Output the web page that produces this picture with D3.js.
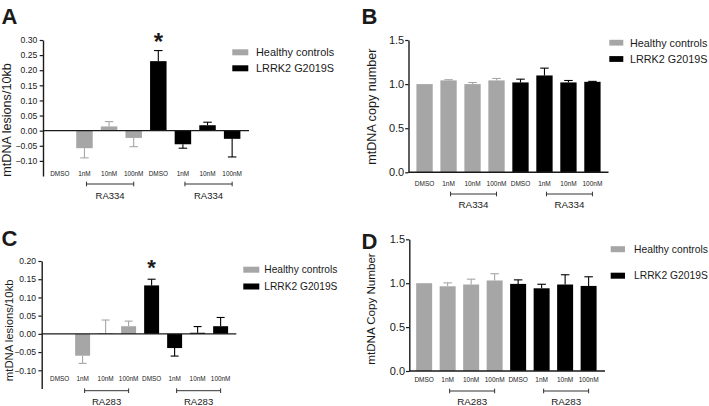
<!DOCTYPE html>
<html><head><meta charset="utf-8">
<script src="https://cdn.jsdelivr.net/npm/d3@7"></script>
<style>
body{margin:0;background:#fff}
svg{display:block}
text{font-family:"Liberation Sans",Arial,Helvetica,sans-serif;fill:#1a1a1a}
</style>
</head><body><svg id="chart" width="709" height="406"></svg>
<script>
// ---------- data ----------
const conditions = ["DMSO", "1nM", "10nM", "100nM"];
const seriesNames = ["Healthy controls", "LRRK2 G2019S"];
const drugTop = "RA334";
const drugBottom = "RA283";

// Panel A: mtDNA lesions/10kb (RA334)
const aHealthy    = [0, -0.058, 0.014, -0.024];
const aHealthyErr = [0, 0.032, 0.016, 0.029];
const aLrrk2      = [0.230, -0.045, 0.018, -0.027];
const aLrrk2Err   = [0.035, 0.013, 0.010, 0.060];
const aTicks = [-0.10, -0.05, 0.00, 0.05, 0.10, 0.15, 0.20, 0.25, 0.30];

// Panel B: mtDNA copy number (RA334)
const bHealthy    = [1.000, 1.042, 1.000, 1.042];
const bHealthyErr = [0, 0.008, 0.018, 0.022];
const bLrrk2      = [1.019, 1.098, 1.019, 1.026];
const bLrrk2Err   = [0.037, 0.083, 0.022, 0.005];
const bTicks = [0.0, 0.5, 1.0, 1.5];

// Panel C: mtDNA lesions/10kb (RA283)
const cHealthy    = [0, -0.060, 0.002, 0.021];
const cHealthyErr = [0, 0.021, 0.036, 0.014];
const cLrrk2      = [0.133, -0.039, 0.003, 0.021];
const cLrrk2Err   = [0.017, 0.022, 0.017, 0.024];
const cTicks = [-0.10, -0.05, 0.00, 0.05, 0.10, 0.15, 0.20];

// Panel D: mtDNA Copy Number (RA283)
const dHealthy    = [1.000, 0.965, 0.985, 1.031];
const dHealthyErr = [0, 0.039, 0.061, 0.077];
const dLrrk2      = [0.992, 0.942, 0.985, 0.969];
const dLrrk2Err   = [0.046, 0.046, 0.111, 0.104];
const dTicks = [0.0, 0.5, 1.0, 1.5];

const colors = ["#a6a6a6", "#000000"];
const axisColor = "#1a1a1a";

const svg = d3.select("#chart");

function panel(p) {
  const g = svg.append("g");
  const ids = d3.range(8);
  const x = d3.scaleBand().domain(ids).range([p.x0, p.x1])
    .paddingInner(p.pi).paddingOuter(p.po).align(p.align);
  const y = d3.scaleLinear().domain(p.yDomain).range(p.yRange);
  const bw = x.bandwidth();
  const cx = i => x(i) + bw / 2;

  const rows = [
    ...p.healthy.map((v, i) => ({i, v, e: p.healthyErr[i], s: 0, label: conditions[i]})),
    ...p.lrrk2.map((v, i) => ({i: i + 4, v, e: p.lrrk2Err[i], s: 1, label: conditions[i]}))
  ];

  // error bars (one-sided, away from zero)
  const eb = rows.filter(d => d.e > 0);
  const tip = d => y(d.v + (d.v >= 0 ? 1 : -1) * d.e);
  g.selectAll("line.err").data(eb).join("line").attr("class", "err")
    .attr("x1", d => cx(d.i)).attr("x2", d => cx(d.i))
    .attr("y1", d => y(d.v)).attr("y2", tip)
    .attr("stroke", d => colors[d.s]).attr("stroke-width", 1.1);
  g.selectAll("line.cap").data(eb).join("line").attr("class", "cap")
    .attr("x1", d => cx(d.i) - p.capW / 2).attr("x2", d => cx(d.i) + p.capW / 2)
    .attr("y1", tip).attr("y2", tip)
    .attr("stroke", d => colors[d.s]).attr("stroke-width", 1.1);

  // bars
  g.selectAll("rect.bar").data(rows).join("rect").attr("class", "bar")
    .attr("x", d => x(d.i)).attr("width", bw)
    .attr("y", d => Math.min(y(d.v), y(0)))
    .attr("height", d => Math.abs(y(d.v) - y(0)))
    .attr("fill", d => colors[d.s]);

  // y axis
  const ax = d3.axisLeft(y).tickValues(p.ticks).tickFormat(d3.format(p.fmt))
    .tickSize(p.tickLen).tickSizeOuter(0).tickPadding(p.tickPad);
  const ag = g.append("g").attr("transform", `translate(${p.x0},0)`).call(ax);
  ag.select(".domain").attr("stroke", axisColor).attr("stroke-width", 1.4);
  ag.selectAll(".tick line").attr("stroke", axisColor).attr("stroke-width", 1.2);
  ag.selectAll(".tick text").attr("font-size", p.tickFont).attr("fill", "#1a1a1a")
    .attr("font-family", '"Liberation Sans",Arial,sans-serif');

  // zero baseline / x axis
  g.append("line").attr("x1", p.x0).attr("x2", p.x1).attr("y1", y(0)).attr("y2", y(0))
    .attr("stroke", axisColor).attr("stroke-width", 1.4);

  // y title
  g.append("text")
    .attr("transform", `translate(${p.titleX},${p.titleY}) rotate(-90)`)
    .attr("text-anchor", "middle").attr("font-size", p.titleFont)
    .text(p.title);

  // category labels
  g.selectAll("text.cat").data(rows).join("text").attr("class", "cat")
    .attr("x", d => cx(d.i)).attr("y", p.catY)
    .attr("text-anchor", "middle").attr("dominant-baseline", "central")
    .attr("font-size", p.catFont).text(d => d.label);

  // drug brackets
  [[1, 3], [5, 7]].forEach(([a, b]) => {
    const xa = cx(a) + p.brOff, xb = cx(b);
    g.append("line").attr("x1", xa).attr("x2", xb).attr("y1", p.brY).attr("y2", p.brY)
      .attr("stroke", "#333").attr("stroke-width", 1);
    [xa, xb].forEach(xx => g.append("line").attr("x1", xx).attr("x2", xx)
      .attr("y1", p.brY - 2.3).attr("y2", p.brY + 2.3).attr("stroke", "#333").attr("stroke-width", 1));
    g.append("text").attr("x", (xa + xb) / 2).attr("y", p.drugY)
      .attr("text-anchor", "middle").attr("dominant-baseline", "central")
      .attr("font-size", p.drugFont).text(p.drug);
  });

  // significance asterisk
  if (p.star) {
    const d = rows[4];
    g.append("text").attr("x", cx(4)).attr("y", tip(d) - p.starGap)
      .attr("text-anchor", "middle").attr("font-size", p.starFont)
      .attr("font-weight", "bold").text("*");
  }

  // legend
  seriesNames.forEach((nm, k) => {
    const cy = p.legY[k];
    g.append("rect").attr("x", p.legX).attr("y", cy - p.legH / 2)
      .attr("width", p.legW).attr("height", p.legH).attr("fill", colors[k]);
    g.append("text").attr("x", p.legTextX).attr("y", cy)
      .attr("dominant-baseline", "central").attr("font-size", p.legFont).text(nm);
  });

  // panel letter
  g.append("text").attr("x", p.letterX).attr("y", p.letterY)
    .attr("font-size", 22).attr("font-weight", "bold").attr("fill", "#000").text(p.letter);
}

panel({
  letter: "A", letterX: 1.5, letterY: 23.5,
  healthy: aHealthy, healthyErr: aHealthyErr, lrrk2: aLrrk2, lrrk2Err: aLrrk2Err,
  x0: 43, x1: 249, pi: 0.33, po: 0.35, align: 0.5,
  yDomain: [-0.15, 0.30], yRange: [176, 40], ticks: aTicks, fmt: ".2f",
  tickLen: 3.3, tickPad: 2.4, tickFont: 8.6,
  title: "mtDNA lesions/10kb", titleX: 11, titleY: 120, titleFont: 12.6,
  catY: 173.7, catFont: 6.4, brY: 184, brOff: 2, drugY: 195.2, drugFont: 9.5, drug: drugTop,
  capW: 8.5, star: true, starGap: 1, starFont: 24,
  legX: 232.3, legW: 16, legH: 6, legY: [52.3, 68.3], legTextX: 256, legFont: 10.9
});

panel({
  letter: "B", letterX: 361.5, letterY: 23.5,
  healthy: bHealthy, healthyErr: bHealthyErr, lrrk2: bLrrk2, lrrk2Err: bLrrk2Err,
  x0: 408.5, x1: 608.5, pi: 0.32, po: 0.33, align: 0.5,
  yDomain: [0, 1.5], yRange: [172.3, 40], ticks: bTicks, fmt: ".1f",
  tickLen: 3.3, tickPad: 1, tickFont: 11,
  title: "mtDNA copy number", titleX: 376.3, titleY: 106.7, titleFont: 12.6,
  catY: 183, catFont: 6.5, brY: 194, brOff: 2, drugY: 204.7, drugFont: 9.8, drug: drugTop,
  capW: 8.5, star: false,
  legX: 609.3, legW: 14, legH: 5.8, legY: [42.7, 59], legTextX: 630, legFont: 10.8
});

panel({
  letter: "C", letterX: 1.5, letterY: 245.7,
  healthy: cHealthy, healthyErr: cHealthyErr, lrrk2: cLrrk2, lrrk2Err: cLrrk2Err,
  x0: 41.7, x1: 236.3, pi: 0.35, po: 0.405, align: 0.56,
  yDomain: [-0.15, 0.20], yRange: [388.5, 261], ticks: cTicks, fmt: ".2f",
  tickLen: 3.3, tickPad: 2.4, tickFont: 8.6,
  title: "mtDNA lesions/10kb", titleX: 13, titleY: 330.3, titleFont: 11.3,
  catY: 378.6, catFont: 6.4, brY: 390.7, brOff: 2, drugY: 401, drugFont: 9.6, drug: drugBottom,
  capW: 8, star: true, starGap: 4.5, starFont: 22,
  legX: 243.3, legW: 16, legH: 6, legY: [269.7, 286.5], legTextX: 264.3, legFont: 10.2
});

panel({
  letter: "D", letterX: 361.5, letterY: 249,
  healthy: dHealthy, healthyErr: dHealthyErr, lrrk2: dLrrk2, lrrk2Err: dLrrk2Err,
  x0: 409.3, x1: 605, pi: 0.32, po: 0.325, align: 0.45,
  yDomain: [0, 1.5], yRange: [371, 239.3], ticks: dTicks, fmt: ".1f",
  tickLen: 3.3, tickPad: 1, tickFont: 11,
  title: "mtDNA Copy Number", titleX: 375, titleY: 309, titleFont: 11.6,
  catY: 379.3, catFont: 6.5, brY: 391, brOff: 2, drugY: 401.7, drugFont: 9.8, drug: drugBottom,
  capW: 8.5, star: false,
  legX: 610.7, legW: 14.3, legH: 6, legY: [249.2, 275.7], legTextX: 634, legFont: 10.3
});
</script>
</body></html>
